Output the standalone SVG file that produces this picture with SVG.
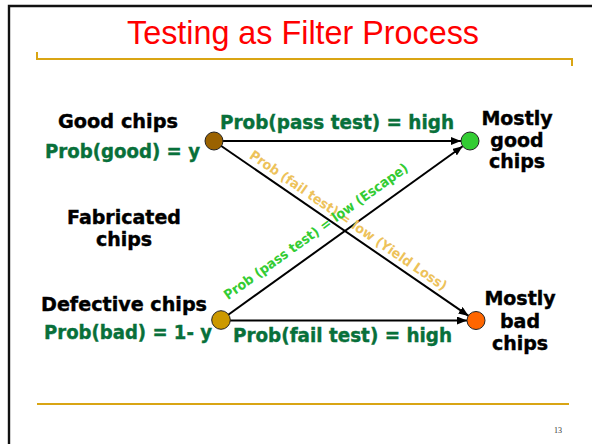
<svg xmlns="http://www.w3.org/2000/svg" width="592" height="444" viewBox="0 0 592 444">
<defs>
<marker id="arr" markerUnits="userSpaceOnUse" markerWidth="10" markerHeight="8" refX="10" refY="4" orient="auto">
<path d="M0,0 L10,4 L0,8 z" fill="#000"/>
</marker>
<style>
.blk{font-family:"DejaVu Sans",Verdana,sans-serif;font-weight:bold;font-size:19px;fill:#000;stroke:#000;stroke-width:0.4}
.grn{font-family:"DejaVu Sans",Verdana,sans-serif;font-weight:bold;font-size:19px;fill:#08703A;stroke:#08703A;stroke-width:0.4}
.lbl{font-family:"DejaVu Sans",Verdana,sans-serif;font-weight:bold;font-size:13.5px}
.ln{stroke:#000;stroke-width:2;fill:none}
.nd{stroke:#222;stroke-width:1}
.gold{stroke:#D9A514;fill:none}
</style>
</defs>
<rect width="592" height="444" fill="#fff"/>
<path d="M9,444 V6 H592" fill="none" stroke="#111" stroke-width="2.4"/>
<text x="303" y="44" text-anchor="middle" font-family="'Liberation Sans',Arial,sans-serif" font-size="33" fill="#FF0000" textLength="352" lengthAdjust="spacingAndGlyphs">Testing as Filter Process</text>
<path class="gold" d="M37,52 V59 H572 V66" stroke-width="2"/>
<path class="gold" d="M37,404 H569" stroke-width="2.2"/>
<text x="558" y="433" text-anchor="middle" font-family="'Liberation Serif','Times New Roman',serif" font-size="8" fill="#333">13</text>

<g id="connectors">
<line class="ln" x1="214" y1="141" x2="461" y2="141" marker-end="url(#arr)"/>
<line class="ln" x1="214" y1="141" x2="468.6" y2="315.9" marker-end="url(#arr)"/>
<line class="ln" x1="221" y1="320" x2="462.7" y2="146.3" marker-end="url(#arr)"/>
<line class="ln" x1="221" y1="320.5" x2="467" y2="320.5" marker-end="url(#arr)"/>
<text class="lbl" fill="#EDC25A" transform="translate(248.5,157.4) rotate(34.49)" textLength="236" lengthAdjust="spacingAndGlyphs">Prob (fail test) = low (Yield Loss)</text>
<text class="lbl" fill="#33CC33" transform="translate(228,300.2) rotate(-35.71)" textLength="223" lengthAdjust="spacingAndGlyphs">Prob (pass test) = low (Escape)</text>
<text class="grn" x="220" y="129" textLength="234" lengthAdjust="spacingAndGlyphs">Prob(pass test) = high</text>
<text class="grn" x="233" y="342" textLength="219" lengthAdjust="spacingAndGlyphs">Prob(fail test) = high</text>
</g>

<g id="good">
<circle class="nd" cx="214" cy="141" r="9" fill="#9A6200"/>
<text class="blk" x="58" y="128" textLength="120" lengthAdjust="spacingAndGlyphs">Good chips</text>
<text class="grn" x="45" y="158" textLength="155" lengthAdjust="spacingAndGlyphs">Prob(good) = y</text>
</g>

<g id="fabricated">
<text class="blk" x="124" y="224" text-anchor="middle">Fabricated</text>
<text class="blk" x="124" y="246" text-anchor="middle">chips</text>
</g>

<g id="defective">
<circle class="nd" cx="221" cy="320" r="9.3" fill="#CC9900"/>
<text class="blk" x="41" y="311" textLength="166" lengthAdjust="spacingAndGlyphs">Defective chips</text>
<text class="grn" x="44" y="339" textLength="168" lengthAdjust="spacingAndGlyphs">Prob(bad) = 1- y</text>
</g>

<g id="mostlygood">
<circle class="nd" cx="470" cy="141" r="9" fill="#33CC33"/>
<text class="blk" x="517" y="125" text-anchor="middle">Mostly</text>
<text class="blk" x="517" y="147" text-anchor="middle">good</text>
<text class="blk" x="517" y="168" text-anchor="middle">chips</text>
</g>

<g id="mostlybad">
<circle class="nd" cx="476" cy="320.5" r="9" fill="#FF6600"/>
<text class="blk" x="520" y="305" text-anchor="middle">Mostly</text>
<text class="blk" x="520" y="328" text-anchor="middle">bad</text>
<text class="blk" x="520" y="350" text-anchor="middle">chips</text>
</g>
</svg>
